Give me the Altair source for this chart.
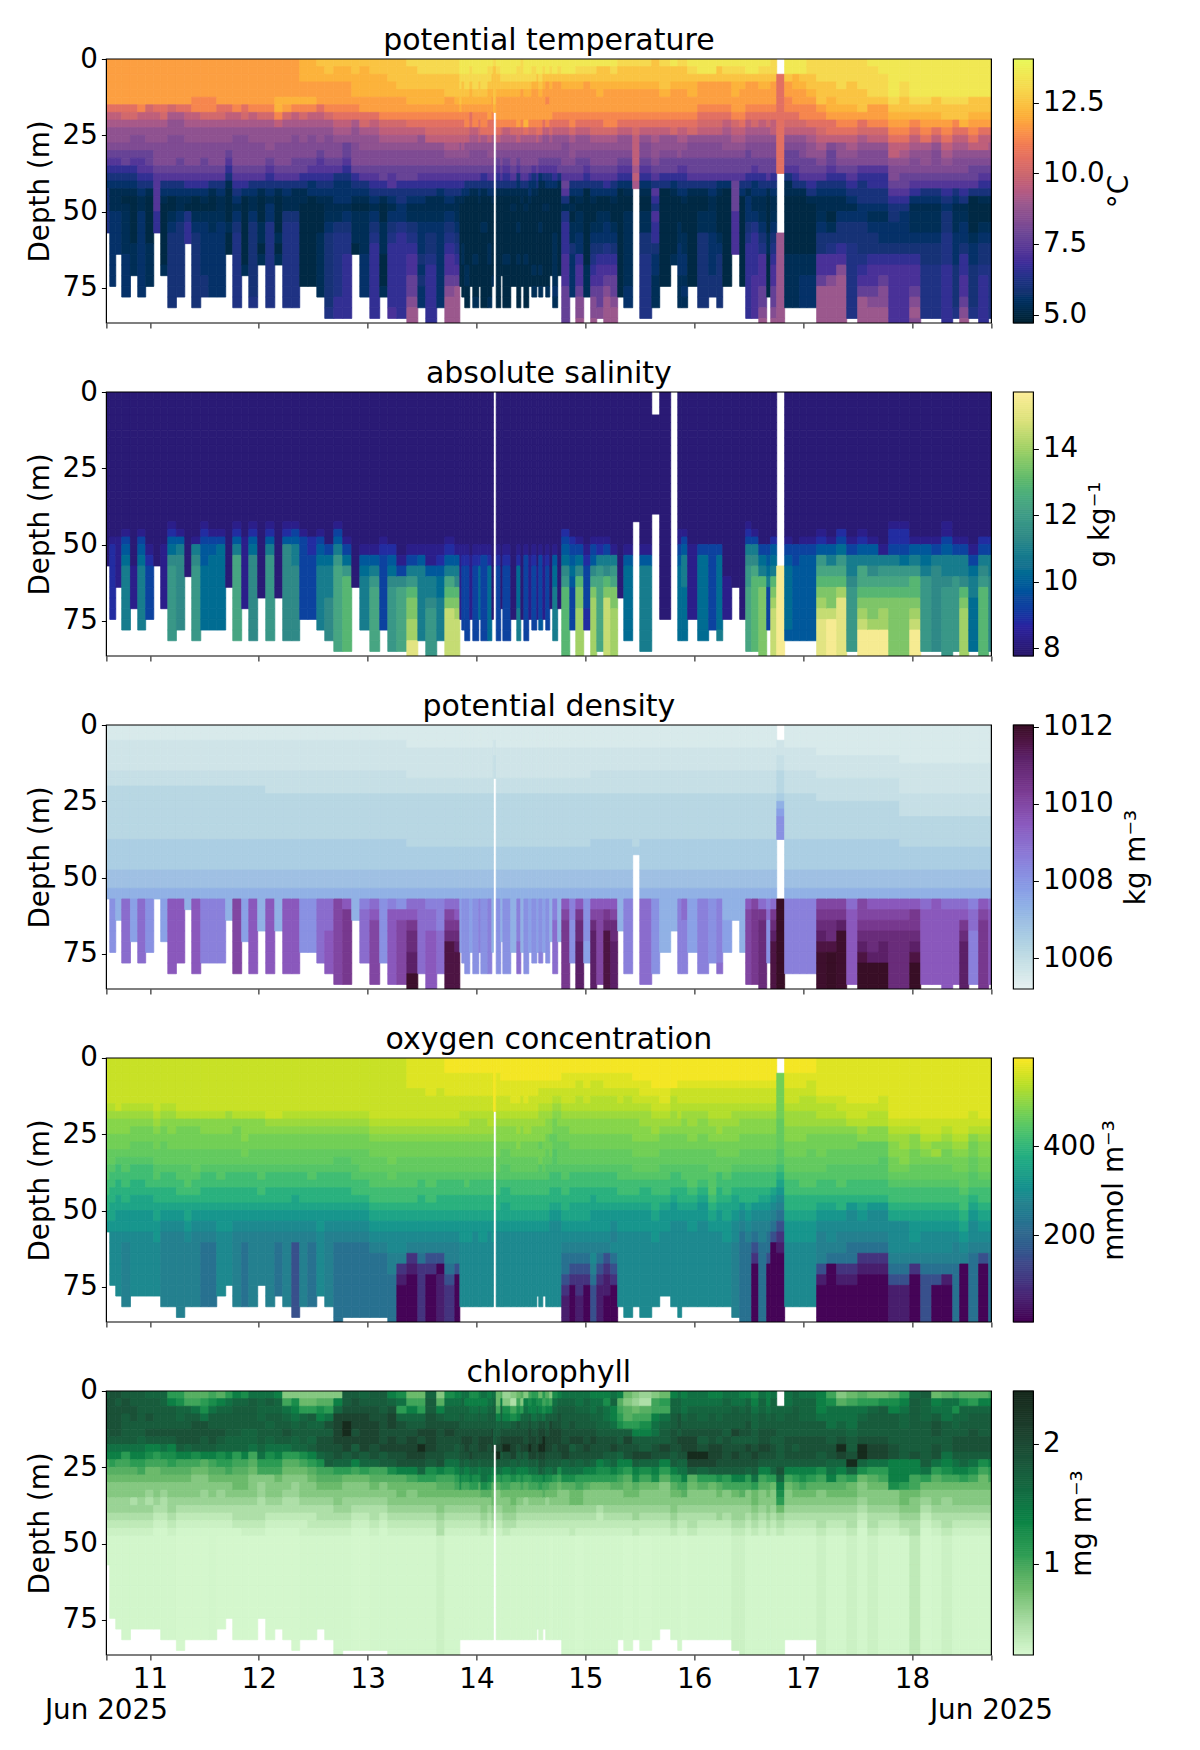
import altair as alt, pandas as pd, numpy as np
EDGES=[0,2.5,5,7.5,10,12.5,15,17.5,20,22.5,25,27.5,30,32.5,35,37.5,40,42.5,45,47.5,50,53.5,57,60.5,64,67.5,71,74.5,78,81.5,85,88.5]
TICKS=[10.6,11,12,13,14,15,16,17,18,18.73]
DAY_EDGES=[10.600,10.631,10.686,10.741,10.821,10.888,10.961,11.035,11.099,11.164,11.243,11.320,11.384,11.467,11.540,11.614,11.696,11.761,11.843,11.908,11.990,12.064,12.147,12.220,12.303,12.376,12.450,12.533,12.606,12.689,12.771,12.854,12.928,13.020,13.111,13.185,13.268,13.360,13.461,13.534,13.635,13.709,13.801,
13.847,13.865,13.892,13.938,13.966,14.021,14.040,14.104,14.141,14.155,14.181,14.223,14.242,14.315,14.370,14.407,14.435,14.480,14.508,14.554,14.572,14.609,14.636,14.673,14.700,14.746,
14.783,14.857,14.912,14.985,15.049,15.105,15.169,15.233,15.297,15.353,15.435,15.500,15.610,15.683,15.784,15.849,15.885,15.940,16.032,16.133,16.207,16.262,16.345,16.418,16.473,16.528,16.593,16.666,16.703,16.758,16.831,16.905,16.969,17.034,17.125,17.217,17.309,17.401,17.502,17.594,17.695,17.787,17.888,17.980,18.081,18.182,18.274,18.375,18.439,18.522,18.613,18.705,18.73]
TEMP_LEVELS=[5.0,5.2,5.6,6.0,6.6,7.2,7.7,8.2,8.6,9.1,9.6,10.1,10.5,11.2,11.7,12.1,12.5,13.0,13.5,14.0]
TEMP_DEEP_LEVELS=[5.0,5.3,5.6,5.9,6.2,6.6,7.0,7.6,8.3,8.9,9.4,10.0,10.5,11.0,11.5,12.0,12.5,13.0,13.5,14.0]
SAL_LEVELS=[7.95,8.3,8.8,9.3,9.8,10.3,10.8,11.3,11.8,12.3,12.9,13.5,14.0,14.5,15.0,15.5]
DENS_LEVELS=[1005.5,1005.7,1005.9,1006.2,1006.5,1006.9,1007.3,1007.7,1008.1,1008.5,1009.0,1009.5,1010.0,1010.4,1010.8,1011.2,1011.6,1011.9,1012.0]
OXY_LEVELS=[10,50,90,150,225,262,285,315,350,385,415,440,455,470,490,510,530,550,570,590]
CHL_LEVELS=[.25,.26,.27,.31,.38,.48,.58,.68,.8,.9,1.0,1.1,1.25,1.4,1.55,1.68,1.78,1.9,2.05,2.4]
TEMP=["oooooo mkjiihgf edcddd ee","oooooo mkjiihgf edcbbb ccccccc","oooooo mkjiihgf edcbbb cccc","oooooo mljiihgg edcbab bbbbcccc","oooooo mljihhgf edcbaa aaabbb","oooooo nkjihhgf fedcbb cccccccc","oooooo lkjiihgg fedbaa aaabbbb","oooooo mkjiihhh gfffff ff","oooooo mljiihhh gfdcba aaaaab","oooooo ljiihhhh gfdcaa bcddddddd",
"oooooo mjiihhhg gfdcbb cddddddd","oooooo mkjiihhh gfecba eff","ooooon nkjiihhh gfecaa bcddddddd","ooooon nljiihhg gfecba bcccccdd","ooooon nljiihhh gfdbaa bbcccccc","oooooo mljiihhh gfdcbb bccccccc","oooooo mkjiihgf edbaaa abaa","oooooo nkjihhhh gfedcb cdeeeeeee","oooooo mljihhhh gfecaa aaaaab","oooooo nkjiihhh gfdcbb cddddddde",
"oooooo nljiihhh gfdbaa abbab","oooooo nljiiihg fedcbc ceeeeeeee","ooooop pnkiihhh gfdbaa aabab","ooooop oljiihhh gfdcbb deeeeeeee","ooooop nkjihhhg gfdbbb deeeeeeee","pppoop nljiihhg gedbba aaaaaaa","pppoop nkjihhhg feccaa aaaaaaa","qppooo mkjiihgf fedcba aabbbbbb","qqpooo nljihhhg fedcbb bcddddddde","qppooo nmkjihhg fdcccb bdeeeeeeff",
"qppooo nmkjiggf edcccb cdeeffffff","qqpppo nmjiihhh gedcba bbba","qppppo omljiihh gfdcba bbbbcccc","qqpppo omkjiihh gfedcb cdefffffff","qqpppo onlkjihh ggedba abbbaaab","qqqppo onlkjihh gffdcb cdeffffffg","qqqqpo onlkjihh ggeddc ceffffffff","rqqqpp onmkjihh ggedcb bdefgghhijj","rrqqpp onmkiihh gfedcb bcccdcdcc","rrqqpp onmlkihh gfedbb bcddeffffff",
"rrqqpp onmlkihh gfecbb bcccccccc","rrqqqo onmlkjih gfedcb cdefgghijjj","rrqqqp onmlkjih gfedbb bcdefghjjjj",
"ssrrqq pnmlkiih gfedba aaaaaaa","ssrqqp onmlkjih gfecba aaabbaaa","ssrrqp onnlkiih gfdcaa aaaaabbaa","srrqpp ommkjihh gfdbaa aaaaaaa","ssrrqp onnkjihh gfdbaa aaaabaaab","ssrqqp onmlkihh gfdcba aaaaaaa","ssrrqp onnmjihh gedbaa abaaaaaaa","srrqpp oommkiih gfdcaa aaabbaaab","srqqpo onmmjiih gfdcba aaaaaab","rqqqqq p",
"srqqpo oonmkihg fedbaa aaaaaaaaa","ssrqpo oonljihh gfdbaa aaaaaa","ssrqpo oonkjihg fedbaa aaaabaaaa","ssrqpo oonljihh gfdbab aaaaaaa","srrqpo ooolkihg fdcbaa abaabaaaa","rrrqoo oonljihh gfdbba aaaaaaa","ssrqpo oopmjihh gfdbab aaaabaaaa","ssrqpo oonljihh geccba aaaaaaa","srrpoo oonljihh fdcbaa aaaaabab","ssqpoo oonmkihh gedbaa aaaaaaa",
"ssrqpo oonmjihg fcbaaa abaaabab","srqpoo oomkiihg fdbaab aaaaaaa","ssqoon oonkiihg fdcaab aaaaaaab","srqpoo oomljihg fdcaaa aaaaaa","ssqooo onmkiihg fecaaa aabbbbbcb","srqooo onmkiihg gdbaaa aaaaaa",
"ssqpoo onmkihhh gfgfdb efffggghhhh","ssqpoo onnljiih gfdcab abbdcccc","srqpoo onmkiihg gfdcba bbccfgghiij","srqooo onmkiihg fedaaa aaaaabbb","srqpoo onmljihh gfdcba abcdefghiij","sqqppo onmljihh gfdcaa bbcdfgghhi","sqqpoo onnljihh gfecaa bccefghijjj","srqpoo onnljihh gfdcba abcdfghhijj","rqqpoo onmkiihg fecaaa aaaaaaaa","rqqpoo onmkiihg fecbaa bbbbbbbcc",
"rqqpoo onmlkkkk jkj","rqqpoo onmkihhg fecbaa bbddeeeeee","qqqpoo onmkjiih gfdfed gffdccbbb","rqqqpo onmkiihg gedaaa aaaaaaa","sqqpoo onmliihg gecbaa aaaab","rqqpoo onmkjiig fedcaa abbcccbbb","rqqpoo onmkjihg fedcba aabbccbcb","srqppo onmlihhg gfdbaa aaaaaaa","ssqooo nmlkihhg gfdbaa bbddddddd","ssqooo nmlkihhg gfdcbb bbccccdd",
"sqqooo nmlkihhg gfcbaa aabcddddd","srqooo nmkjiihg gfcaaa aaaaaaa","srqppo onlkjihg gfgggg gggg","srqpoo onmkjihg gfdcaa aaaaaaa","ssqooo nmkjihgg gedbcc cdefffffff","ssqooo nmljihhg feccbb ceffffgggg","srqpoo nmkjihhg gedcbb bcdeggghhij","srqpoo nmljihhg gfdbaa aabbaaaa","rrqooo nmkkihhg gedcbb bcdefgghhij","..mmmm mmmmmmmm m..... ..jjjjjjjjj",
"ssqoon nmlkihgg fdbbaa aaaabbbbb","ssppoo nmlkihgg fedbaa aaaabbbbb","ssqpoo nnlkihhg gfdbaa aaaabbccc","rrqqpo nnmkjiig gfedba aaaabbccc","rrrqqq onmlkjih gfdcbb bcddgghjjjj","rrrqqp pommkhgg fedcbb abdeggijjjj","rrrrqq ponmkiih gedcbb cddfgijjjjj","rrrqqq ponmkjih gfedcb cddeeeeeee","rrrrqq qomljihh fedddc cdddefghjjj","srrrrq oonlkihh feeddc bcddfgghijj",
"ssrrrq oonlkihh feeddc bccdfghiijj","sssssr qponmkki hhgfed dccdfgggggg","sssrrq qponmkji hggfed cccdfgggggg","sssssr qpnmkjih hgfecb bbcdfgghiji","sssssr qponmjii hgfdcb bbcddeeeee","sssssq qpomkihh hgfdcb bbcddeeeee","sssssr qqonmkji hgfedc ddeeeffffff","sssssr qqnmkjih hgfdcb bbcccdddde","sssssr qqpmkjih hgfedb bccdffgghij","sssssq qponmkih ggfdaa aabccdddde",
"sssssq qpomkkih gfedba abcddefffff","sssssq qpomkjih gfedba abcddeeeee"]
SAL=["aaaaaa","aaabccccccc","aaabbbbb","aabdefgggggg","aaaaaabbbb","aabdefgggggg","aaaabcddddd","aaaaaa","aaaabbbbbb","abcefhiiiiiii",
"aabeghhhhhhh","aaaaaaa","aaabghiiiiiii","abcdeeffffff","aabdefffffff","aabdffffffff","aaaaaaaa","abcegjjjjjjjj","aaabbbbbbb","abcefhhhhhhhh",
"aaaaaaaaa","abcegiiiiiiii","aaaaaaaaa","abcehhhhhhhhh","abdegghhhhhhh","aabdddddddd","aaaccdddddd","aabdefgggggg","aaaadfggghhhh","abdegijjjjjjjj",
"aaabdfikkkkkkk","aaaaaaaa","aaaabefggggg","aaaabegijjjjjj","aaabcddddddd","aaaacefhiiiiii","aaaaabdhjjjjjj","aaaabdgikllmmoo","aaaabeggggggg","aaaabbegghiiiii",
"aaaabceffgggg","aaabcegjklnnnnn","aaaabeghklmnnnn",
"aaaabbbbbbb","aaaabcdddddd","aaaabcddddddd","aaaaabbbbbb","aaaabcddddddd","aaaabcfffff","aaaabdddddddd","aaaabcfffffff","aaaaaaaaaaa","!",
"aaaabcddddddd","aaaaaaaaaa","aaaabcddddddd","aaaaaaaaaaa","aaaabcffffggg","aaaaaaaaaaa","aaaabdddddddd","aaaaabbbbbb","aaaabcdddddd","aaaaaabbbbb",
"aaaabdddddde","aaaaabbbbbb","aaaabcdddddd","aaaaaaaaaa","aaaabeffggggg","aaaaaaaaaa",
"aacdefhikkkkkkk","aaacdefedddd","aaabdfhkllmmmmm","aaaabcddddcc","aaabdehjlmmmmmm","aaabcgijjjjjjj","aaabdghklnnnnnn","aaaabgijllmmmmm","aaaaaaaaa","aaaabefffffff",
"a","aaaabegggggggg","!...aaaaaaaaaaaaa","aaaaaaaaaaa","!","aabbdefffffff","aabdegggfffff","aaaabbbbbbb","aaaadffffffff","aaaadddddddd",
"aaaadfffffffg","aaaaaaabbbb","aaaaaaaa","aaaaaaaaaaa","abcdghiijjjjjj","aabdghjkkkkkkk","aaaadfgklllllll","aaaadefgdddd","aaacefgklmnnnnn","!......................ppppppppp",
"aaabdeffffffe","aaaaddeeeeeee","aaabdeeeeeeee","aaabdeeeeeeee","aabceijklmnoooo","aaabegjkllnpppp","aacdfijkmoooooo","aaabdgghiiiiii","aabcegjjklmnppp","aaabeghjkllmppp",
"aaaabgijklmmppp","abccdgijkllllll","abccdfijkllllll","aaabegikklmnppp","aaabefgiiiiiii","aaabdghhhhhhhh","abbdegghiiiiiii","aaabdggiiiiiii","aaabdgghklmmmmm","aaaabdfggfffff",
"aaacdghikkkkkkk","aaacdgghhhhhhh"]
DENS_TOPS=[(10.6,"aabbbbccdddddddeeeef"),(12.0,"aabbbbcccddddddeeeef"),(13.3,"aaabbbbccdddddddeeef"),(15.0,"aaabbbcccddddddeeeef"),(17.1,"aaaabbbcccdddddeeeef"),(17.8,"aaaaabbbbcccddddeeef")]
DENS_SHALLOW_DEEP="fg"
DENS_DEEP=["gg","hhiiiii","gggg","jkkkkkkk","gghhhh","jkkkkkkk","hiiiiii","gg","hhhhhh","jllllllll",
"klllllll","ggg","kllllllll","jjjjjjjj","jjjjjjjj","jjjjjjjj","gggg","kmmmmmmmm","hhhhhh","jllllllll",
"ggggg","kllllllll","ggggg","lllllllll","kklllllll","iiiiiii","hiiiiii","jjkkkkkk","ijkkkllll","klmmmmmmmm",
"ijlnnnnnnn","gggg","hjjkkkkk","hjklmmmmmm","hiiiiiii","hjjlllllll","ghilmmmmmm","hiklnoopprr","hjkkkkkkk","hhjkkllllll",
"hhjjjkkkk","hjkmnoqqqqq","hjklnopqqqq",
"hhhhhhh","hhiiiiii","hhiiiiiii","ghhhhhh","hhiiiiiii","hhjjjjj","hiiiiiiii","hhjjjjjjj","ggggggg","!aabbccc",
"hhiiiiiii","gggggg","hhiiiiiii","ggggggg","hhjjjjkkk","ggggggg","hiiiiiiii","ghhhhhh","hhiiiiii","gghhhhh",
"hiiiiiij","ghhhhhh","hhiiiiii","gggggg","hjjjkkkkk","gggggg",
"jjlmnnnnnnn","ijjjiiii","ijlnooppppp","hhiiiihh","ijlmopppppp","hklmmmmmmm","iklnoqqqqqq","hklmooppppp","ggggg","hjjjjjjjj",
"!aaabbbcccddddddde","hjkkkkkkkk","hiiiiiiii","ggggggg","ggggg","ijjjjjjjj","jkkkjjjjj","ghhhhhh","ijjjjjjjj","iiiiiiii",
"ijjjjjjjk","gggghhh","gggg","ggggggg","kllmmmmmmm","klmnnnnnnn","ijknooooooo","ijjkiiii","jjknopqqqqq","!..bbccdddeghiii.......sssssssss",
"ijjjjjjjj","iijjjjjjj","ijjjjjjjj","ijjjjjjjj","jlmnopqrrrr","jkmnooqssss","jlmnprrrrrr","ikklllllll","jkmmnopqsss","jklmnoopsss",
"hklmnoppsss","iklmnoooooo","ijlmnoooooo","jklnnopqsss","jjklllllll","ikllllllll","jkkllllllll","ikklllllll","ikklnoppppp","hijkkjjjjj",
"iklmnnnnnnn","ikklllllll"]
COL_LEN=[22,27,28,29,28,28,28,28,29,29,30,29,29,29,29,28,27,29,29,29,27,29,28,29,30,29,29,28,29,31,30,30,30,30,30,31,31,31,31,31,31,31,31,
29,29,29,29,29,29,29,29,29,7,29,29,29,29,29,29,29,29,29,28,29,28,29,29,29,29,
31,31,31,31,31,31,31,31,29,30,29,30,29,28,29,30,29,29,29,29,29,29,30,31,31,31,31,31,31,31,29,29,29,29,31,31,31,31,31,31,31,31,31,31,31,31,31,31,31,31,31,31]
OXY=["rrrrrrqpoonnmmllkkjjihg","rrrrrrqpoonnmmlkkjjiihgg","rrrrrrrpoonnmlkkjjiihhgg","rrrrrrqpoonnmllkkjjihhgf","rrrrrrqponnmmlkkjjiihhgg","rrrrrrqponnmmlkkjjiihhgg","rrrrrrqponnmmlkkkjiihhgg","rrrrrrrqponnmmllkjjiihhg","rrrrrrqponnmmmlkkjjihgf","rrrrrrqpoonnmmlkkjjihgf",
"rrrrrrrqonnnmmllkkjihgf","rrrrrrrqonnnmmlllkjiihgf","rrrrrrrqonnnmmmlkkjihgf","rrrrrrrqoonnmmlkkjjihgfe","rrrrrrrqoonnmmlkkjjihgfe","rrrrrrrqoonnmmllkjjihhg","rrrrrrrpoonnmmlkkjjihhg","rrrrrrrqonnnmmlkkjjihgf","rrrrrrrqooonnmlkkjjihgfe","rrrrrrrqoonnmmlkkjjihgf",
"rrrrrrrqoonnmmllkkjihgf","rrrrrrrrponnmmlkkjjihgf","rrrrrrrrponnmmlkkjjihgfe","rrrrrrrqponnmmlkkjjihgf","rrrrrrrqponnmmlkkjiihgfd","rrrrrrrqponnmmlkkjjihgf","rrrrrrrqponnmmllkjjihgfe","rrrrrrrqponnmmlkkjjihhg","rrrrrrrqponnmmlkkjjihgf","rrrrrrrqponnmllkkjjihgfe",
"rrrrrrrqponnmllkkjjihgfe","rrrrrrrqponnmmllkkjihgfe","rrrrrrrqponnmmmlkkjihgfe","rrrrrrrrqponnmmllkkjihgfe","rrrrrrrrqponnmmllkkjihgfe","rrrrrrrrqponnnmmlkkjihggffeee","rrrrrrrrqponnmmllkkjihggfcbaa","ssssrrrrqponnmmllkkjihgfcba","ssssrrrrqponnmmlkkjjihgfeccc","sssssrrrqponnmmllkkjihgfdcaa",
"ssssrrrrqponnmmlkkjjihgfdabb","ttsssrrrqponnmmlkkjjihgffedcc","ttsssrrrqponnmmlkkjjihgffdaa",
"ttsssrrqqponnmmlkkjjihhg","ttsssrrqqponnmmlkkjjihhg","ttsssrrqqponnmmllkjjihhg","ttsssrrqpponnmmlkkjjihhg","ttsssrrqpponnmmlkkjjihgg","ttsssrrqpponnmmlkkjjihhg","ttsssrrqpponnmmlkkjjihhg","ttsssrrqqponnmmlkkjjihgg","ttsssrrqqponnmmlkkjjihhg","ttttttt",
"ttsssrrqpoonnmmlkkjjihgg","tttssrrqpoonmmllkjjiihgg","tttssrrqpoonmmllkjjiihgg","tttsssrqpoonnmmlkkjjihgg","tttsssrqppoonmmlkkjjihgg","tttssrrqpoonnmmlkkjjihgg","tttsssrqpponnmmlkkjjihgg","tttssrrqpponnmmlkkjjihgg","tttssrrqpoonnmmlkkjjihgg","tttssrrqpoonnmmlkkjjihgg",
"tttsrrqppoomnnllkkjjihgg","tttsrrqppoonnmmlkkjjihgg","tttsrrqpoonnmmllkkjjihgg","tttsrrqpoomnnmlkkjjihgg","tttsrqponnmmlllkkjjihgg","tttsrqpoonnmmmlkkjjihgg",
"ttssrrqponnmmmllkkjjihgfeedcbb","ttssrrqpoonnmmlkkjjiihgfedcaaaa","ttsrrqqpoonnmmlkkjjiihgfedccbb","ttssrrqpoonnmmlkkjjiihgfedcaaa","ttsrrqqpoonnmmlkkjiihhgfgfedd","ttsrrqqpoonnmmlkkjjihhgfedcbb","ttssrqqpoonnmmlkkjjihhgfdcbba","ttssrqqpoonnmmlkkjjihgfgedcaa","ttssrrqpoonnmmllkkjihhg","ttssrqqpoonnmmllkkjihhg",
"tttsrrqpooonnmmlkkjihhg","tttssrqppoonnmmlkjjihhg","ttttsrrqpponnmmlkkjjihhg","ttttssrqponnmmllkkjihhg","ttttrqqpponnmmlkkjihhg","tttsrrqqponnmmlkkjjihgg","tttsrrqpoonnmmllkjjihgg","tttsrrqppoonmmlllkjihhg","tttsrrqpoonnmmllkjihhgg","tttsrrqqpoonmmmlllkjihgg",
"tttsrrqqpponnmmkkjjihhg","tttsrrqqpoonnmmlkkjiihhg","tttsrrqppoonnmlkkjiihggf","tttsrrqpoonnmmlkkjjhgfee","tttsrrqpoonnmmlkkjjihgfeeeeeee","tttsrrqpoonnmmlkkjjhgfedcaaaa","tttsrrqpoonnmmlkkjihgffeeeeee","tttsrrqpoonnmmlkkjihgfeedaaaa","tttsrrqpoonnmmlkkihgfedaaaaaa","..nnnnnnmmmmllkjihgfedcbaaa",
"ttssrrqppoonnmmlkkjjihhg","ttssrrqppoonnmmlkkjjihhg","ttssrqqppoonnmmllkjjihhg","ttsrrqqpponnmmmllkjjihhg","sssssrqqponnnmmlkkjihgfffdbaaa","sssssrqqponnmmllkkjihggfeaaaaa","sssssrrqponnmmlllkjjhgffecbaaa","ssssssrrqonnmmllkkjhggfeecbaaa","ssssssrrqpommmllkkjihgfecbaaa","ssssssrqqoommmllkkjhggfecbaaa",
"sssssrrqqoommlllkkjhggfecbaaa","ssssssssrqpoonnmlkkjigggfedbbb","ssssssssrqppoonmlkkjigggfedbbb","ssssssssrqoonnmmlkkjihhgfcaaa","ssssssssrrqponmmlkkjihggfedddd","ssssssssrrqopnmmlkkjihggfedaaa","ssssssssrqponnmmlkkjihggfebaaa","ssssssssrrqponnmlkkjihgffeee","ssssssssrrqponnmmlkkjihgfaaaa","sssssssrrqonnmmllkjihggfeeee",
"ssssssssrqpoonnmlkkjihgfdaaa","ssssssssrqpoonnmlkkjihgfeeee"]
CHL=["qrrrrqqonkjihhggfedc","rrrrrrqonljihhggfedc","rqrrrrqonkjihhggfedc","qrrqqqqolkjihhggfedc","qqrrqqqonljihhfgfedc","qqqqqqponlkihhggfedc","pqqrqrqnmkiihgfgfedc","pqqqqrqnlkiihhgfedcc","ppqqqrqomkjihgffedcc","lnqqqrqnmljihhggfedc",
"lmppqrrqnkjihhgfedcb","jkpqqrrpnkjihhgfedcb","jkoqrrrqmkihhhgfedcb","jlmorrqqnjihhggfedcb","kmoqqrrqnkjihhgfedcc","jnpqqrqpmljihggfedcb","lopqqqppnlkihhgfedcb","npqqqqpplkjiihgffecb","mpqqqpppnkjiihgffedb","oqqqqppokjihhhgffedb",
"opppqqqpolkhggfffedb","oqpqpqpomlkhhhgfedcb","nppqqqqonlkihhgfedcb","hkopqrqoljihhgffedcb","hmnopqppljihggffedcb","hilpqqqpmkihhhgfeddc","hilqpqpqnljihhgfeedc","hjmnpqrrpmkjihgffedc","hjlorqrrqqkjihgffedc","hnpssssrrpljihhgfedc",
"qqrsttssqplihhggfedc","qrrssrsqrnkihhgfedcb","pqrsssssqplihhgfedcb","qqrrsssrrpkjihgffedc","qqqrrrrsqqkjhhgfedcc","nprssrssrqmjihhgfedc","molprrrsrrnjiihgfedc","iknpqrsssrnkihhgfedc","iklpqsrtsrpliihgfedc","pqqrrsssrqmliihgfedc",
"hjnqrrrrrrnkjihhgffd","mopprsrrqomkjihgfedc","nopprrrqqonlkihgfedc",
"nopqqrrrrqonmihgfedc","oppqqrsrrqomkihgfedc","onppqrssrpnmkihgfedc","mnopqrsrsqonlihgfedc","mnopqrrrrqomlihgfedc","nnpqqrssrpnmjihgfedc","onopqrssrqoomjhhgfec","nopqqrsrrqonljhgfedc","oopqqsssrqnmjiihgfdc","opqqqqq",
"iiknpqrstqoljhhgfedc","jnppqrssqqomkihgfedc","ghmnprstrqnlkihhgfec","hfkmqrssspomjiihgfdc","ikmnrrsrqqnljihgfedc","jhlpqrssrpnmkihgfedc","hnopqrrsqpnljiggfedc","kmnqrsstsqolkihgfedc","lnnoqrsssqomkihgfedc","lmopqrrsrpomkihgfedc",
"imnprsstsrqmlihgfedc","lkmorsttsrpnkjhgfedc","jlnqqrssrqomkiggfedc","hknqssssrqomjihgfedb","mopqrssrrqpljihgfedc","npqrrsssrqmkihhgfedc",
"opqqqrrsspomjhhgfedc","opqqrrsqrqomjiigfeec","oopqqrsrrpolkiigfedb","oppqqrrsrqnljhhgfedc","noopqrsrrpnlihhgfedc","nopppqrrrnmlihhfeedc","nmoopqrrqomlihhgfedc","opnnoqrsqpnljhhgfedc","njklmqqrpnmkjhhgfedc","ihjjlqsrrnljiihgfedb",
"hgiklnqrsqnmjihggeec","gfjkmnqqspmkihhgfedb","hkknooqrrpnmihhgfedc","ilkopqqsrnljhhhgfedc","nppqqrrrqqnljihhgfec","opprrqsrrpolkihgfedc","noopqrssrponkjhgfedb","oopqqrsstsqjihhgffec","ooppqrqrtspljhhgfedc","nopqqrrsssqlihhgfedc",
"noppqrqssrqmjihggedc","oppqqqrrrrqlkhhgfedc","ooqqqsqrsrqnkihggfed","nopqqrqrrrqnkjhggfed","npqqrrqsrrplkhhgfedc","mnoppqqrsrqoliihgfec","oppqqrrsrqnkjhhgfedc","nnopqrrsrqnljihhgfec","oppqqrqrrqplihhgfedc","..ppqqqqqqrpnmligfec",
"oopqqqrrrqnkihhgfedc","ppqqqqrqrqnljihgfedc","opppqqrrrqnmkihgfedc","opppqqrrrqnljihgfedc","nnnoqqrrqqmkjhhgffed","kmoooqqrrponjihgfedc","hjoopqrtspnkjihgfedc","ikooopqqrtpliihgffed","jlopqqrttpmihhgfedcc","ilpqqqrssoljihhgffed",
"imqqqqrssolkihhgfedc","jmnqqqqrrnnnmhhgfedc","lnoppqqqqnnnliihgfec","pqqqqqqqrnnkkihhgffe","qpppqqqqqqolihgfedcb","inoqrrqrroljihhgfedc","joooqqqqonmkihggffed","komppqrrqonkihhgfedc","jmppqqrrqpnlihhgfedc","jlpqqrrrqomkihhgfedc",
"jnpqqqrrqmkiihhgfedc","knpqqqrrqnlkihhgfedc"]

def rows_for(strings,levels,deep=None,pad=False):
    recs=[]
    for i,s in enumerate(strings):
        s=s.replace(" ","")
        if pad:
            s=(s+s[-1]*31)[:COL_LEN[i]]
        for j,ch in enumerate(s[:31]):
            if ch=='.': continue
            lv=deep if (deep and j>=20) else levels
            k=ord(ch)-97
            if 0<=k<len(lv):
                recs.append(dict(x=DAY_EDGES[i],x2=DAY_EDGES[i+1],y=EDGES[j],y2=EDGES[j+1],v=lv[k]))
    return pd.DataFrame(recs)
def sal_full():
    return [s[1:] if s.startswith('!') else 'a'*16+s for s in SAL]
def dens_full():
    out=[]
    for i,s in enumerate(DENS_DEEP):
        if s.startswith('!'): out.append(s[1:]); continue
        top=[t for d,t in DENS_TOPS if d<=DAY_EDGES[i]][-1]
        out.append(top+DENS_SHALLOW_DEEP+s[2:])
    return out
DATA=[rows_for(TEMP,TEMP_LEVELS,TEMP_DEEP_LEVELS),rows_for(sal_full(),SAL_LEVELS),rows_for(dens_full(),DENS_LEVELS),rows_for(OXY,OXY_LEVELS,pad=True),rows_for(CHL,CHL_LEVELS,pad=True)]
P=[("potential temperature",[4.7,14.05],["#042333","#13326f","#3c2c99","#6b4696","#98588e","#c9666f","#f07a55","#fdae3a","#f6d94f","#e8fa5b"],[5,7.5,10,12.5],"°C",".1f",86),
("absolute salinity",[7.77,15.7],["#29186b","#2a23a0","#0f4a9c","#17708f","#2f8987","#46a184","#5fba6c","#9dd066","#dbe27c","#fdee99"],[8,10,12,14],"g kg⁻¹","d",67),
("potential density",[1005.2,1012.04],["#e6f1f1","#bfdbe4","#9fc0e3","#8a9ee6","#8b7bd8","#8a59bd","#7a3a91","#5b2168","#360e24"],[1006,1008,1010,1012],"kg m⁻³","d",103),
("oxygen concentration",[5,598],["#440154","#482878","#3e4989","#31688e","#26828e","#1f9e89","#35b779","#6ece58","#b5de2b","#fde725"],[200,400],"mmol m⁻³","d",81),
("chlorophyll",[0.24,2.44],["#d7f9d0","#a8dba2","#6dbb6c","#2f9e55","#0c8546","#136a41","#1a5238","#1c3b2a","#15281b"],[1,2],"mg m⁻³","d",49)]
rows=[]
for k,(t,dom,cols,tk,lab,fmt,tx) in enumerate(P):
    df=DATA[k]
    sc=alt.Scale(domain=list(np.linspace(dom[0],dom[1],len(cols))),range=cols,clamp=True)
    last=k==4
    xax=alt.Axis(values=TICKS,title=None,grid=False,domain=False,labels=last,labelExpr="datum.value%1==0?format(datum.value,'d'):''",tickSize=5,labelOverlap=False,labelPadding=6)
    base=alt.Chart(df).mark_rect(strokeWidth=0.8,clip=True).encode(
        x=alt.X('x:Q',scale=alt.Scale(domain=[10.6,18.73],nice=False,zero=False),axis=xax),x2='x2',
        y=alt.Y('y:Q',scale=alt.Scale(domain=[86.5,0],nice=False,zero=False),axis=alt.Axis(values=[0,25,50,75],format='d',title="Depth (m)",grid=False,domain=False,tickSize=5,labelPadding=4,titleX=-66,titleY=132,titleAlign='center',titleBaseline='middle')),y2='y2',
        fill=alt.Fill('v:Q',scale=sc,legend=None),stroke=alt.Stroke('v:Q',scale=sc,legend=None))
    frame=alt.Chart(pd.DataFrame({'a':[0]})).mark_rect(fillOpacity=0,stroke='black',strokeWidth=1.2).encode(x=alt.value(0),x2=alt.value(885),y=alt.value(0),y2=alt.value(264))
    layers=[base,frame]
    if last:
        layers.append(alt.Chart(pd.DataFrame(dict(x=[10.6,18.73],t=["Jun 2025","Jun 2025"]))).mark_text(fontSize=27.8,font="DejaVu Sans",color="black",clip=False).encode(x='x:Q',y=alt.value(320),text='t:N'))
    main=alt.layer(*layers).properties(width=885,height=264,title=alt.TitleParams(t,fontSize=30,fontWeight='normal',font="DejaVu Sans",offset=3,dy=13.6,color='black'))
    steps=np.linspace(dom[0],dom[1],129)
    cb=pd.DataFrame(dict(a=steps[:-1],b=steps[1:]))
    cbar0=alt.Chart(cb).mark_rect(strokeWidth=0.8).encode(
        y=alt.Y('a:Q',scale=alt.Scale(domain=dom,nice=False,zero=False),axis=alt.Axis(orient='right',values=tk,format=fmt,title=lab,titleAngle=270,grid=False,domain=False,tickSize=5,labelPadding=4,titleX=tx,titleY=132,titleAlign='center',titleBaseline='middle')),y2='b',
        x=alt.value(0),x2=alt.value(20),
        fill=alt.Fill('a:Q',scale=sc,legend=None),stroke=alt.Stroke('a:Q',scale=sc,legend=None))
    cframe=alt.Chart(pd.DataFrame({'a':[0]})).mark_rect(fillOpacity=0,stroke='black',strokeWidth=1.2).encode(x=alt.value(0),x2=alt.value(20),y=alt.value(0),y2=alt.value(264))
    cbar=alt.layer(cbar0,cframe).properties(width=20,height=264)
    rows+= [main,cbar]
chart=alt.concat(*rows,columns=2,spacing=alt.RowColnumber(row=69,column=22),bounds='flush').resolve_scale(fill='independent',stroke='independent').configure_view(stroke=None).configure_axis(labelFont="DejaVu Sans",titleFont="DejaVu Sans",labelFontSize=27.8,titleFontSize=27.8,titleFontWeight='normal',tickColor='black',labelColor='black',titleColor='black',tickWidth=1).properties(padding={"left":17.4,"top":17,"right":5,"bottom":5})
chart.save("out.html",embed_options={"renderer":"svg","actions":False})
